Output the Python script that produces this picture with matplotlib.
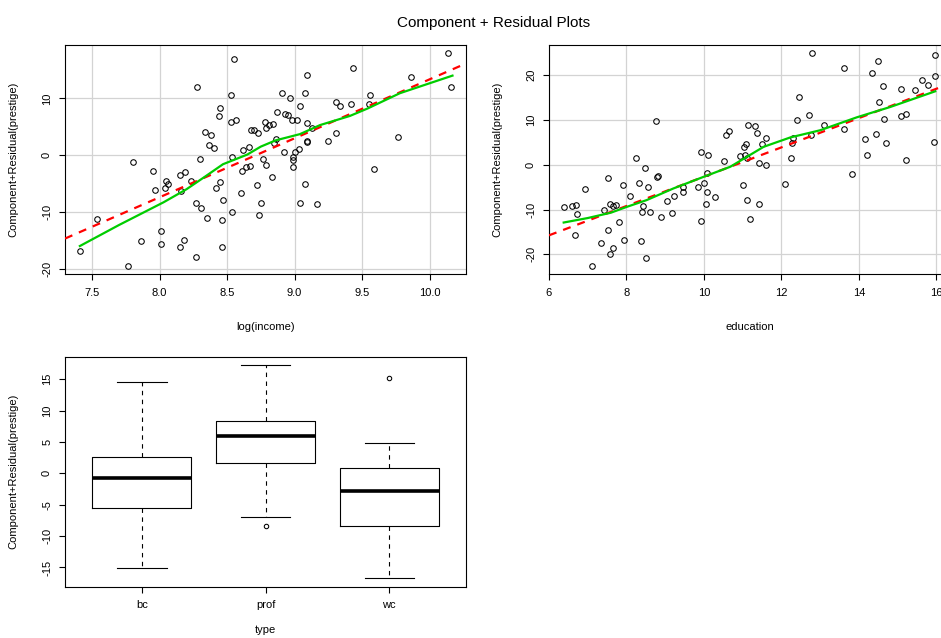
"""
Component + residual plots for the prestige regression:
log(income), education and occupation type.
"""

import matplotlib
matplotlib.use("Agg")
import matplotlib.pyplot as plt

plt.rcParams["font.family"] = ["Liberation Sans", "DejaVu Sans"]
plt.rcParams["axes.unicode_minus"] = False

# --- log(income) panel -------------------------------------------------------
log_income = [
    7.41, 7.54, 7.77, 7.80, 7.86, 7.95, 7.97, 8.01, 8.01, 8.04,
    8.05, 8.06, 8.15, 8.15, 8.16, 8.18, 8.19, 8.23, 8.27, 8.27,
    8.28, 8.30, 8.31, 8.34, 8.35, 8.38, 8.37, 8.40, 8.42, 8.44,
    8.45, 8.45, 8.46, 8.46, 8.47, 8.53, 8.53, 8.54, 8.54, 8.55,
    8.57, 8.60, 8.61, 8.62, 8.64, 8.66, 8.67, 8.68, 8.70, 8.72,
    8.73, 8.74, 8.75, 8.77, 8.78, 8.79, 8.79, 8.81, 8.83, 8.84,
    8.86, 8.85, 8.87, 8.91, 8.92, 8.93, 8.95, 8.97, 8.98, 8.99,
    8.99, 8.99, 9.00, 9.02, 9.03, 9.04, 9.04, 9.08, 9.08, 9.09,
    9.09, 9.09, 9.09, 9.13, 9.17, 9.25, 9.31, 9.31, 9.34, 9.42,
    9.43, 9.55, 9.56, 9.59, 9.77, 9.86, 10.14, 10.16,
]
cr_income = [
    -16.85, -11.27, -19.50, -1.29, -15.20, -2.82, -6.22, -13.40, -15.70, -5.81,
    -4.52, -5.05, -3.46, -16.10, -6.28, -14.97, -2.99, -4.52, -8.34, -17.90,
    11.98, -0.70, -9.22, 4.05, -11.10, 3.58, 1.76, 1.23, -5.87, 6.93,
    8.34, -4.76, -16.10, -11.50, -7.93, 10.57, 5.87, -0.41, -10.04, 16.85,
    6.11, -6.69, -2.82, 0.94, -2.00, 1.41, -1.88, 4.46, 4.46, -5.23,
    3.93, -10.50, -8.46, -0.70, 5.75, -1.76, 4.76, 5.23, -3.93, 5.46,
    2.76, 2.06, 7.52, 10.92, 0.53, 7.28, 7.10, 10.10, 6.22, -0.41,
    -0.82, -2.06, 0.53, 6.22, 1.06, 8.69, -8.51, -5.05, 10.98, 14.03,
    5.64, 2.47, 2.29, 4.70, -8.57, 2.52, 9.40, 3.88, 8.57, 8.93,
    15.33, 8.98, 10.57, -2.47, 3.23, 13.74, 17.97, 12.04,
]
income_fit = (-90.46, 10.38)  # intercept, slope of the component line
income_smooth_x = [7.41, 7.70, 8.03, 8.20, 8.33, 8.47, 8.65, 8.75, 8.86,
                   9.04, 9.19, 9.41, 9.54, 9.78, 10.17]
income_smooth_y = [-16.0, -12.3, -8.3, -6.0, -3.9, -1.6, 0.1, 1.5, 2.6,
                   3.7, 5.3, 6.9, 8.2, 10.9, 14.0]

# --- education panel ---------------------------------------------------------
education = [
    6.38, 6.60, 6.69, 6.67, 6.73, 6.92, 7.11, 7.33, 7.41, 7.52,
    7.53, 7.58, 7.58, 7.64, 7.64, 7.73, 7.81, 7.91, 7.93, 8.09,
    8.24, 8.33, 8.37, 8.39, 8.42, 8.49, 8.50, 8.55, 8.60, 8.76,
    8.78, 8.81, 8.88, 9.05, 9.17, 9.22, 9.45, 9.47, 9.84, 9.93,
    9.93, 10.00, 10.05, 10.07, 10.09, 10.10, 10.29, 10.51, 10.56, 10.64,
    10.94, 11.00, 11.03, 11.05, 11.09, 11.10, 11.12, 11.13, 11.20, 11.32,
    11.37, 11.43, 11.43, 11.50, 11.59, 11.60, 12.09, 12.25, 12.27, 12.30,
    12.39, 12.46, 12.71, 12.76, 12.79, 13.11, 13.62, 13.62, 13.83, 14.15,
    14.21, 14.35, 14.44, 14.49, 14.52, 14.62, 14.64, 14.71, 15.09, 15.08,
    15.21, 15.22, 15.44, 15.64, 15.78, 15.94, 15.96, 15.97,
]
cr_education = [
    -9.52, -9.22, -9.07, -15.60, -11.00, -5.35, -22.50, -17.40, -10.20, -14.50,
    -2.90, -20.00, -8.77, -18.70, -9.14, -9.00, -12.70, -4.54, -16.70, -7.06,
    1.41, -4.16, -16.95, -10.56, -9.22, -0.67, -20.90, -4.98, -10.56, 9.67,
    -2.75, -2.53, -11.67, -8.10, -10.80, -7.06, -4.90, -6.10, -4.90, 2.83,
    -12.50, -4.09, -8.77, -1.93, -6.10, 2.16, -7.29, 0.74, 6.54, 7.58,
    1.93, -4.46, 4.01, 2.23, 4.61, 1.41, -7.88, 8.77, -12.20, 8.70,
    7.06, 0.45, -8.85, 4.54, 6.02, 0.00, -4.24, 1.49, 4.91, 6.02,
    9.89, 15.17, 11.08, 6.54, 24.90, 8.92, 21.56, 7.96, -2.00, 5.65,
    2.23, 20.45, 6.84, 23.10, 14.05, 17.60, 10.19, 4.91, 16.95, 10.78,
    11.23, 1.12, 16.80, 18.96, 17.77, 5.13, 19.85, 24.60,
]
education_fit = (-35.40, 3.273)
education_smooth_x = [6.38, 7.00, 7.60, 8.01, 8.52, 9.21, 9.99, 10.68, 11.54,
                      12.23, 13.00, 13.95, 14.81, 15.97]
education_smooth_y = [-12.9, -11.9, -10.7, -9.4, -7.9, -5.3, -2.7, -0.45, 4.0,
                      6.1, 7.7, 10.6, 12.9, 16.4]

# --- type panel (box statistics) ---------------------------------------------
type_levels = ["bc", "prof", "wc"]
type_whislo = [-15.1, -7.0, -16.7]
type_q1 = [-5.57, 1.64, -8.44]
type_med = [-0.75, 6.0, -2.77]
type_q3 = [2.6, 8.28, 0.9]
type_whishi = [14.5, 17.2, 4.88]
type_fliers = [[], [-8.4], [15.1]]

GREEN = "#00CD00"
GRID = "#D3D3D3"
LABEL = "Component+Residual(prestige)"
FS = 8


def style_axes(ax):
    for s in ax.spines.values():
        s.set_linewidth(0.8)
        s.set_color("black")
    ax.tick_params(axis="both", direction="out", length=4.3, width=0.8,
                   labelsize=FS, colors="black")
    ax.tick_params(axis="x", pad=5.5)
    ax.tick_params(axis="y", pad=5, labelrotation=90)
    for lab in ax.get_yticklabels():
        lab.set_va("center")
    ax.yaxis.set_label_coords(-0.1165, 0.5)
    ax.xaxis.set_label_coords(0.5, -0.208)


def cr_panel(ax, x, y, fit, sx, sy, xlim, ylim, xticks, yticks, xlabel):
    ax.set_xlim(*xlim)
    ax.set_ylim(*ylim)
    ax.set_xticks(xticks)
    ax.set_yticks(yticks)
    ax.grid(True, color=GRID, linewidth=0.9, zorder=0)
    ax.set_axisbelow(True)
    ax.plot(x, y, linestyle="none", marker="o", markersize=4.0,
            markerfacecolor="none", markeredgecolor="black",
            markeredgewidth=0.75, zorder=3)
    ax.axline((0, fit[0]), slope=fit[1], color="red", linewidth=1.6,
              linestyle=(0, (3.6, 3.2)), zorder=4)
    ax.plot(sx, sy, color=GREEN, linewidth=1.6, zorder=4)
    ax.set_xlabel(xlabel, fontsize=FS)
    ax.set_ylabel(LABEL, fontsize=FS)
    style_axes(ax)


fig = plt.figure(figsize=(9.41, 6.38), dpi=100)
fig.patch.set_facecolor("white")

ax1 = fig.add_axes([0.0691, 0.5705, 0.4261, 0.3594])
cr_panel(ax1, log_income, cr_income, income_fit, income_smooth_x,
         income_smooth_y, (7.30, 10.27), (-20.93, 19.44),
         [7.5, 8.0, 8.5, 9.0, 9.5, 10.0], [-20, -10, 0, 10], "log(income)")
ax1.set_xticklabels(["7.5", "8.0", "8.5", "9.0", "9.5", "10.0"])

# right panel runs past the right edge of the figure
ax2 = fig.add_axes([0.5834, 0.5705, 0.4261, 0.3594])
cr_panel(ax2, education, cr_education, education_fit, education_smooth_x,
         education_smooth_y, (6.0, 16.35), (-24.4, 26.8),
         [6, 8, 10, 12, 14, 16], [-20, -10, 0, 10, 20], "education")

ax3 = fig.add_axes([0.0691, 0.0804, 0.4261, 0.3605])
stats = [
    dict(label=lv, whislo=lo, q1=a, med=m, q3=b, whishi=hi, fliers=fl)
    for lv, lo, a, m, b, hi, fl in zip(type_levels, type_whislo, type_q1,
                                       type_med, type_q3, type_whishi,
                                       type_fliers)
]
ax3.bxp(stats, positions=[1, 2, 3], widths=0.8, capwidths=0.4,
        boxprops=dict(color="black", linewidth=0.8),
        medianprops=dict(color="black", linewidth=2.6, solid_capstyle="butt"),
        whiskerprops=dict(color="black", linewidth=0.8,
                          linestyle=(0, (4, 4))),
        capprops=dict(color="black", linewidth=0.8),
        flierprops=dict(marker="o", markersize=3.2, markerfacecolor="none",
                        markeredgecolor="black", markeredgewidth=0.75))
ax3.set_xlim(0.38, 3.62)
ax3.set_ylim(-18.06, 18.57)
ax3.set_yticks([-15, -10, -5, 0, 5, 10, 15])
ax3.set_xticks([1, 2, 3])
ax3.set_xticklabels(type_levels)
ax3.set_xlabel("type", fontsize=FS)
ax3.set_ylabel(LABEL, fontsize=FS)
style_axes(ax3)
ax3.xaxis.set_label_coords(0.5, -0.165)

fig.text(0.524, 0.964, "Component + Residual Plots", ha="center",
         va="center", fontsize=11)

fig.savefig("out.png", dpi=100)
